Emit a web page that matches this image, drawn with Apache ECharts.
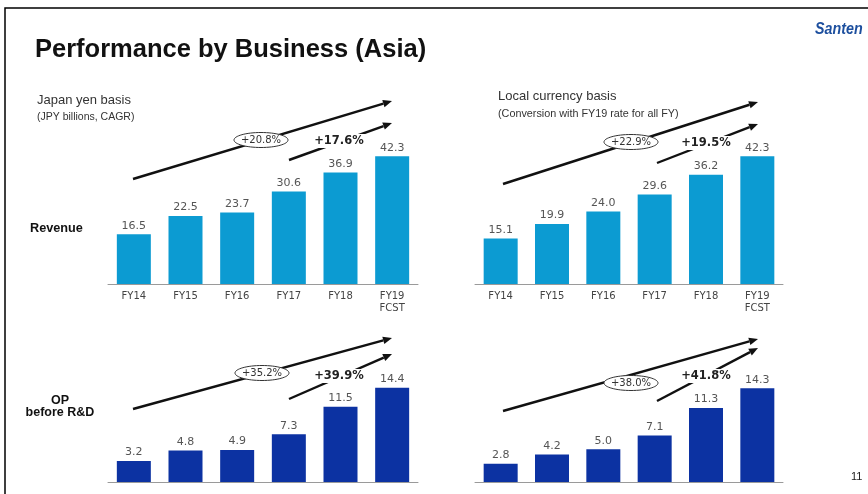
<!DOCTYPE html>
<html>
<head>
<meta charset="utf-8">
<script src="https://cdn.jsdelivr.net/npm/echarts@6/dist/echarts.min.js"></script>
<style>html,body{margin:0;padding:0;background:#fff}#c{width:868px;height:494px}</style>
</head>
<body>
<div id="c"></div>
<script>
const categories = ['FY14', 'FY15', 'FY16', 'FY17', 'FY18', 'FY19\nFCST'];
const revenueJPY = [16.5, 22.5, 23.7, 30.6, 36.9, 42.3];
const revenueLocal = [15.1, 19.9, 24.0, 29.6, 36.2, 42.3];
const opJPY = [3.2, 4.8, 4.9, 7.3, 11.5, 14.4];
const opLocal = [2.8, 4.2, 5.0, 7.1, 11.3, 14.3];
const cagrAll = ['+20.8%', '+22.9%', '+35.2%', '+38.0%'];
const cagrRecent = ['+17.6%', '+19.5%', '+39.9%', '+41.8%'];

const chart = echarts.init(document.getElementById('c'));
const lightBlue = '#0c9bd2';
const darkBlue = '#0c32a2';
const labelFont = 'DejaVu Sans';

const grids = [
  {left: 108, top: 133, width: 310, height: 151},
  {left: 475, top: 133, width: 308, height: 151},
  {left: 108, top: 351, width: 310, height: 131},
  {left: 475, top: 351, width: 308, height: 131}
];
const datasets = [revenueJPY, revenueLocal, opJPY, opLocal];
const maxes = [50, 50, 20, 20];

const xAxes = grids.map((g, i) => ({
  type: 'category', gridIndex: i, data: categories,
  axisLine: {lineStyle: {color: '#9a9a9a', width: 1}},
  axisTick: {show: false},
  axisLabel: {show: i < 2, color: '#444', fontFamily: labelFont, fontSize: 10, margin: 6, lineHeight: 12}
}));
const yAxes = grids.map((g, i) => ({
  type: 'value', gridIndex: i, min: 0, max: maxes[i], show: false, splitLine: {show: false}
}));
const series = datasets.map((d, i) => ({
  type: 'bar', xAxisIndex: i, yAxisIndex: i, data: d, barWidth: 34,
  itemStyle: {color: i < 2 ? lightBlue : darkBlue},
  label: {show: true, position: 'top', distance: 3, color: '#555', fontFamily: labelFont, fontSize: 11,
    formatter: p => p.value.toFixed(1)},
  silent: true
}));

function arrow(x1, y1, x2, y2) {
  const a = Math.atan2(y2 - y1, x2 - x1);
  const L = 9, W = 3.8;
  const bx = x2 - L * Math.cos(a), by = y2 - L * Math.sin(a);
  const px = -Math.sin(a) * W, py = Math.cos(a) * W;
  return [
    {type: 'line', shape: {x1, y1, x2: bx, y2: by}, style: {stroke: '#111', lineWidth: 2.4}, z: 10},
    {type: 'polygon', shape: {points: [[x2, y2], [bx + px, by + py], [bx - px, by - py]]}, style: {fill: '#111'}, z: 10}
  ];
}
function ellipseLabel(cx, cy, txt) {
  return [
    {type: 'ellipse', shape: {cx, cy, rx: 27, ry: 7.5}, style: {fill: '#fff', stroke: '#333', lineWidth: 1}, z: 11},
    {type: 'text', x: cx, y: cy, style: {text: txt, fill: '#333', font: '10px "DejaVu Sans"', align: 'center', verticalAlign: 'middle'}, z: 12}
  ];
}
function boldLabel(cx, cy, txt) {
  return {type: 'text', x: cx, y: cy, style: {text: txt, fill: '#222', font: 'bold 11.5px "DejaVu Sans"', align: 'center', verticalAlign: 'middle',
    backgroundColor: '#fff', padding: [1, 3]}, z: 12};
}

const annot = [
  // [bigStart, bigEnd, ellipse, smallStart, smallEnd, boldText]
  [[133, 179], [392, 101], [261, 140], [289, 160], [392, 123], [339, 141]],
  [[503, 184], [758, 102], [631, 142], [657, 163], [758, 124], [706, 143]],
  [[133, 409], [392, 338], [262, 373], [289, 399], [392, 354], [339, 376]],
  [[503, 411], [758, 339], [631, 383], [657, 401], [758, 348], [706, 376]]
];
let graphics = [
  {type: 'rect', shape: {x: 5, y: 8, width: 900, height: 520}, style: {fill: 'none', stroke: '#000', lineWidth: 1.5}, z: 1},
  {type: 'text', left: 35, top: 37, style: {text: 'Performance by Business (Asia)', font: 'bold 25.5px "Liberation Sans"', fill: '#111'}},
  {type: 'text', x: 815, y: 21, scaleX: 0.84, style: {text: 'Santen', font: 'italic bold 17px "Liberation Sans"', fill: '#1d4f9e'}},
  {type: 'text', left: 37, top: 94, style: {text: 'Japan yen basis', font: '13px "Liberation Sans"', fill: '#333'}},
  {type: 'text', left: 37, top: 112, style: {text: '(JPY billions, CAGR)', font: '10.5px "Liberation Sans"', fill: '#333'}},
  {type: 'text', left: 498, top: 90, style: {text: 'Local currency basis', font: '13px "Liberation Sans"', fill: '#333'}},
  {type: 'text', left: 498, top: 109, style: {text: '(Conversion with FY19 rate for all FY)', font: '10.8px "Liberation Sans"', fill: '#333'}},
  {type: 'text', left: 30, top: 222, style: {text: 'Revenue', font: 'bold 12.7px "Liberation Sans"', fill: '#111'}},
  {type: 'text', x: 60, y: 407, style: {text: 'OP\nbefore R&D', font: 'bold 12.5px "Liberation Sans"', fill: '#111', align: 'center', verticalAlign: 'middle', lineHeight: 12}},
  {type: 'text', left: 851, top: 471, style: {text: '11', font: '11px "Liberation Sans"', fill: '#222'}}
];
annot.forEach((a, i) => {
  graphics = graphics.concat(arrow(a[0][0], a[0][1], a[1][0], a[1][1]));
  graphics = graphics.concat(ellipseLabel(a[2][0], a[2][1], cagrAll[i]));
  graphics = graphics.concat(arrow(a[3][0], a[3][1], a[4][0], a[4][1]));
  graphics.push(boldLabel(a[5][0], a[5][1], cagrRecent[i]));
});

chart.setOption({
  animation: false,
  grid: grids,
  xAxis: xAxes,
  yAxis: yAxes,
  series: series,
  graphic: graphics
});
</script>
</body>
</html>
